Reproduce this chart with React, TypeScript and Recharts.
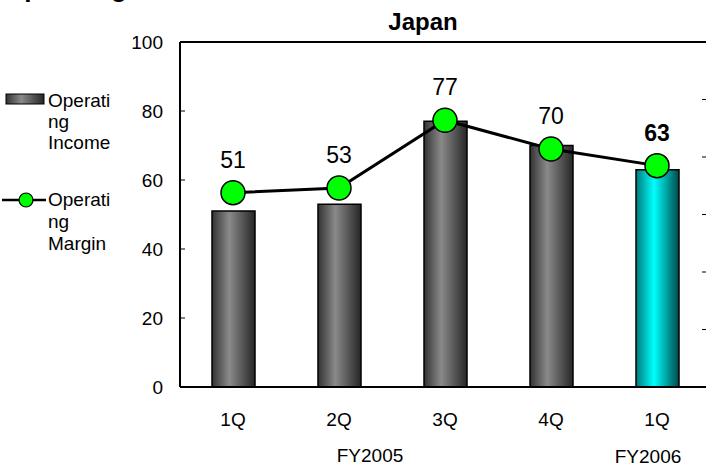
import React from 'react';
import {
  ComposedChart,
  Bar,
  Line,
  XAxis,
  YAxis,
  Cell,
  LabelList,
  ReferenceLine,
} from 'recharts';

const periods = ['FY2005-1Q', 'FY2005-2Q', 'FY2005-3Q', 'FY2005-4Q', 'FY2006-1Q'];
const quarterLabels = ['1Q', '2Q', '3Q', '4Q', '1Q'];
const operatingIncome = [51, 53, 77, 70, 63];
const operatingMargin = [16.9, 17.3, 23.2, 20.7, 19.25];
const leftTicks = [0, 20, 40, 60, 80, 100];
const rightTicks = [0, 5, 10, 15, 20, 25, 30];

const data = periods.map((p, i) => ({
  period: p,
  income: operatingIncome[i],
  margin: operatingMargin[i],
}));

const FONT = '"Liberation Sans", Arial, sans-serif';

const ValueLabel = (props: any) => {
  const { x, y, index } = props;
  const last = index === operatingIncome.length - 1;
  return (
    <text
      x={x}
      y={y - 25}
      textAnchor="middle"
      fontFamily={FONT}
      fontSize={23}
      fontWeight={last ? 'bold' : 'normal'}
      fill="#000"
    >
      {operatingIncome[index]}
    </text>
  );
};

const EmptyTick = () => <g />;

export default function App() {
  return (
    <div
      style={{
        position: 'fixed',
        left: 0,
        top: 0,
        width: 706,
        height: 468,
        overflow: 'hidden',
        background: '#fff',
      }}
    >
      <ComposedChart
        width={720}
        height={468}
        data={data}
        margin={{ top: 42, right: 0, bottom: 41, left: 0 }}
      >
        <defs>
          <linearGradient id="grayBar" x1="0" y1="0" x2="1" y2="0">
            <stop offset="0%" stopColor="#333333" />
            <stop offset="40%" stopColor="#8a8a8a" />
            <stop offset="100%" stopColor="#262626" />
          </linearGradient>
          <linearGradient id="cyanBar" x1="0" y1="0" x2="1" y2="0">
            <stop offset="0%" stopColor="#007a7a" />
            <stop offset="42%" stopColor="#00ffff" />
            <stop offset="100%" stopColor="#004848" />
          </linearGradient>
        </defs>
        <XAxis
          dataKey="period"
          height={40}
          tickLine={false}
          tickSize={0}
          tickMargin={26}
          axisLine={{ stroke: '#000', strokeWidth: 2 }}
          tickFormatter={(_v: any, i: number) => quarterLabels[i]}
          tick={{ fill: '#000', fontSize: 19, fontFamily: FONT }}
          interval={0}
        />
        <YAxis
          yAxisId="left"
          orientation="left"
          width={180}
          domain={[0, 100]}
          ticks={leftTicks}
          tickSize={-5}
          tickMargin={22}
          axisLine={{ stroke: '#000', strokeWidth: 2 }}
          tickLine={{ stroke: '#000', strokeWidth: 1 }}
          tick={{ fill: '#000', fontSize: 19, fontFamily: FONT }}
        />
        <YAxis
          yAxisId="right"
          orientation="right"
          width={10}
          domain={[0, 30]}
          ticks={rightTicks}
          tickSize={-8}
          tickMargin={20}
          axisLine={{ stroke: '#000', strokeWidth: 2 }}
          tickLine={{ stroke: '#000', strokeWidth: 1 }}
          tick={EmptyTick}
        />
        <ReferenceLine yAxisId="left" y={100} stroke="#000" strokeWidth={2} />
        <Bar
          yAxisId="left"
          dataKey="income"
          barSize={43}
          stroke="#000"
          strokeWidth={1.5}
          isAnimationActive={false}
        >
          {data.map((_d, i) => (
            <Cell
              key={i}
              fill={i === data.length - 1 ? 'url(#cyanBar)' : 'url(#grayBar)'}
            />
          ))}
        </Bar>
        <Line
          yAxisId="right"
          dataKey="margin"
          stroke="#000"
          strokeWidth={3}
          dot={{ r: 12, fill: '#00ff00', stroke: '#000', strokeWidth: 1.5 }}
          activeDot={false}
          isAnimationActive={false}
        >
          <LabelList dataKey="margin" content={ValueLabel} />
        </Line>
      </ComposedChart>
      <svg
        width={706}
        height={468}
        style={{ position: 'absolute', left: 0, top: 0, pointerEvents: 'none' }}
      >
        <defs>
          <linearGradient id="grayLegend" x1="0" y1="0" x2="1" y2="0">
            <stop offset="0%" stopColor="#333333" />
            <stop offset="40%" stopColor="#8a8a8a" />
            <stop offset="100%" stopColor="#262626" />
          </linearGradient>
        </defs>
        <text x={4} y={-3} fontFamily={FONT} fontSize={26} fontWeight="bold" fill="#000">
          Operating Income
        </text>
        <text x={423} y={30} textAnchor="middle" fontFamily={FONT} fontSize={24} fontWeight="bold" fill="#000">
          Japan
        </text>
        <rect x={6} y={94} width={38} height={10} fill="url(#grayLegend)" stroke="#000" strokeWidth={1} />
        <text fontFamily={FONT} fontSize={19} fill="#000">
          <tspan x={48} y={107}>Operati</tspan>
          <tspan x={48} y={128}>ng</tspan>
          <tspan x={48} y={149}>Income</tspan>
        </text>
        <line x1={2} y1={200} x2={46} y2={200} stroke="#000" strokeWidth={2.5} />
        <circle cx={26} cy={200} r={7} fill="#00ff00" stroke="#000" strokeWidth={1.2} />
        <text fontFamily={FONT} fontSize={19} fill="#000">
          <tspan x={48} y={206}>Operati</tspan>
          <tspan x={48} y={228}>ng</tspan>
          <tspan x={48} y={250}>Margin</tspan>
        </text>
        <text x={370} y={462} textAnchor="middle" fontFamily={FONT} fontSize={19} fill="#000">
          FY2005
        </text>
        <text x={648} y={463} textAnchor="middle" fontFamily={FONT} fontSize={19} fill="#000">
          FY2006
        </text>
      </svg>
    </div>
  );
}
